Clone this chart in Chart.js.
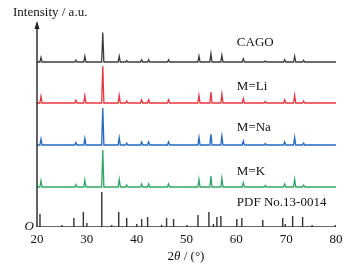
<!DOCTYPE html>
<html><head><meta charset="utf-8">
<script src="https://cdn.jsdelivr.net/npm/chart.js@4/dist/chart.umd.min.js"></script>
<style>html,body{margin:0;padding:0;background:#fff}#w{width:356px;height:272px}</style>
</head><body><div id="w"><canvas id="c"></canvas></div>
<script>
// Peak positions (2θ, degrees) of the measured patterns
const peakPos = [20.8, 27.8, 29.6, 33.2, 36.5, 38.0, 41.0, 42.4, 46.4, 52.5, 54.9, 57.1, 61.4, 65.8, 69.7, 71.7, 73.5];
// Peak heights (a.u.) for each sample
const cagoH = [4.5, 2, 5.7, 29.5, 5.7, 1.5, 2.3, 2.3, 2.3, 6, 8.3, 6.7, 3.3, 1, 2.3, 5.7, 1.7];
const liH   = [6.7, 2.7, 7.3, 37, 7.7, 2, 3.3, 3.3, 3.3, 7.7, 11, 9, 4.3, 1.5, 3.3, 7.7, 2];
const naH   = [6, 2.5, 6.7, 37, 7.3, 2, 3, 3, 3, 7.7, 11, 9, 4, 1.5, 3, 7.7, 2];
const kH    = [6.3, 2.5, 7, 37, 7.7, 2, 3, 3, 3, 7.7, 11, 8.7, 4.3, 1.5, 3, 7.7, 2];
// Vertical offsets of the stacked patterns (a.u.)
const offsets = {CAGO: 165, Li: 124, Na: 82, K: 40};
// Standard card PDF No.13-0014 stick positions and heights
const pdfPos = [20.6, 25.0, 27.4, 29.3, 30.0, 33.0, 35.0, 36.4, 38.0, 40.0, 41.0, 42.2, 45.0, 46.0, 47.4, 50.1, 52.3, 54.5, 55.4, 56.1, 56.9, 60.1, 61.1, 65.3, 69.3, 69.8, 71.3, 73.3, 75.2, 79.9];
const pdfH   = [13, 2, 9, 15, 4, 35, 2, 15, 9, 3, 8, 10, 2, 9, 8, 2, 12, 15, 3, 10, 11, 8, 9, 7, 9, 3, 11, 10, 2, 2];
const xTicks = [20, 30, 40, 50, 60, 70, 80];
const labels = ["CAGO", "M=Li", "M=Na", "M=K", "PDF No.13-0014"];

function pattern(pos, h, off) {
  const pts = [{x: 20, y: off}];
  const w = 0.22;
  pos.forEach((p, i) => {
    pts.push({x: p - w, y: off});
    pts.push({x: p, y: off + h[i]});
    pts.push({x: p + w, y: off});
  });
  pts.push({x: 80, y: off});
  return pts;
}
function sticks(pos, h) {
  const pts = [{x: 20, y: 0}];
  pos.forEach((p, i) => {
    pts.push({x: p, y: 0});
    pts.push({x: p, y: h[i]});
    pts.push({x: p, y: 0});
  });
  pts.push({x: 80, y: 0});
  return pts;
}
const SERIF = '"Liberation Serif", "DejaVu Serif", serif';
const ds = (data, color, bw) => ({data, borderColor: color, borderWidth: bw, showLine: true, pointRadius: 0, tension: 0, fill: false});

const overlay = {
  id: 'overlay',
  afterDraw(chart) {
    const ctx = chart.ctx, xs = chart.scales.x, ys = chart.scales.y;
    const a = chart.chartArea;
    ctx.save();
    // y axis with arrow
    ctx.strokeStyle = '#222'; ctx.lineWidth = 1.4;
    ctx.beginPath(); ctx.moveTo(a.left, ys.getPixelForValue(0)); ctx.lineTo(a.left, a.top - 1); ctx.stroke();
    ctx.fillStyle = '#222';
    ctx.beginPath(); ctx.moveTo(a.left, a.top - 3); ctx.lineTo(a.left - 2.5, a.top + 5); ctx.lineTo(a.left + 2.5, a.top + 5); ctx.closePath(); ctx.fill();
    ctx.fillStyle = '#111';
    ctx.font = '13px ' + SERIF;
    ctx.textBaseline = 'middle'; ctx.textAlign = 'left';
    ctx.fillText('Intensity / a.u.', 13, 13);
    // origin
    ctx.font = 'italic 13px ' + SERIF; ctx.textAlign = 'right';
    ctx.fillText('O', a.left - 3, ys.getPixelForValue(0));
    // series labels
    ctx.font = '13px ' + SERIF; ctx.textAlign = 'left';
    const lx = xs.getPixelForValue(60.1);
    const ly = [43, 87, 128, 172, 203];
    labels.forEach((t, i) => ctx.fillText(t, lx, ly[i]));
    // x title "2θ / (°)"
    const y = 257;
    const p1 = '2', p2 = 'θ', p3 = ' / (°)';
    ctx.font = '13px ' + SERIF; const w1 = ctx.measureText(p1).width, w3 = ctx.measureText(p3).width;
    ctx.font = 'italic 13px ' + SERIF; const w2 = ctx.measureText(p2).width;
    let x = 186 - (w1 + w2 + w3) / 2;
    ctx.font = '13px ' + SERIF; ctx.fillText(p1, x, y); x += w1;
    ctx.font = 'italic 13px ' + SERIF; ctx.fillText(p2, x, y); x += w2;
    ctx.font = '13px ' + SERIF; ctx.fillText(p3, x, y);
    ctx.restore();
  }
};

new Chart(document.getElementById('c'), {
  type: 'scatter',
  data: {datasets: [
    ds(pattern(peakPos, cagoH, offsets.CAGO), '#3c3c3c', 1.3),
    ds(pattern(peakPos, liH, offsets.Li), '#e8363f', 1.3),
    ds(pattern(peakPos, naH, offsets.Na), '#2468c0', 1.3),
    ds(pattern(peakPos, kH, offsets.K), '#2fa866', 1.3),
    ds(sticks(pdfPos, pdfH), '#333333', 1.4)
  ]},
  options: {
    responsive: true, maintainAspectRatio: false, animation: false,
    layout: {padding: {left: 37, right: 20, top: 24, bottom: 0}},
    plugins: {legend: {display: false}, tooltip: {enabled: false}},
    scales: {
      x: {type: 'linear', min: 20, max: 80,
        afterBuildTicks: s => { s.ticks = xTicks.map(v => ({value: v})); },
        afterFit: s => { s.height = 45; },
        grid: {display: false, drawTicks: false}, border: {display: false},
        ticks: {padding: 5, color: '#111', font: {family: SERIF, size: 13}, maxRotation: 0}},
      y: {display: false, min: 0, max: 203}
    }
  },
  plugins: [overlay]
});
</script></body></html>
